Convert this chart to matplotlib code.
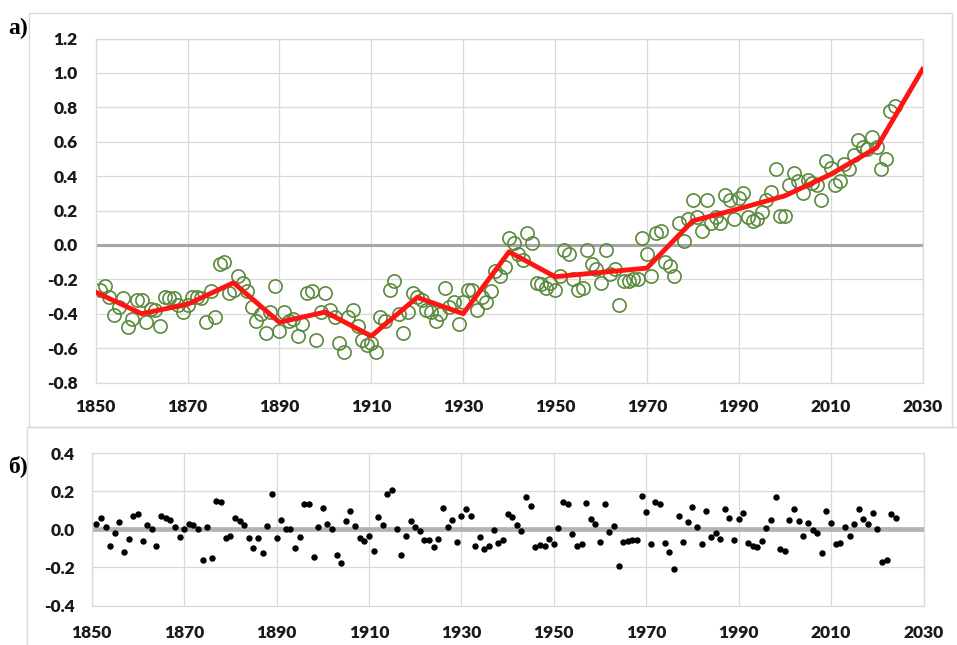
import matplotlib
matplotlib.use("Agg")
import matplotlib.pyplot as plt
from matplotlib.patches import Rectangle
import numpy as np

plt.rcParams["font.family"] = ["Lato", "DejaVu Sans"]

# годы наблюдений
years = np.arange(1851, 2025)

# аномалия температуры (кружки, панель а)
anomaly = [
    -0.26, -0.24, -0.30, -0.41, -0.36, -0.31, -0.48, -0.43, -0.32, -0.32,
    -0.45, -0.37, -0.38, -0.47, -0.30, -0.31, -0.31, -0.35, -0.39, -0.35,
    -0.30, -0.30, -0.31, -0.45, -0.27, -0.42, -0.11, -0.10, -0.28, -0.26,
    -0.18, -0.22, -0.27, -0.36, -0.44, -0.40, -0.51, -0.39, -0.24, -0.50,
    -0.39, -0.44, -0.43, -0.53, -0.46, -0.28, -0.27, -0.55, -0.39, -0.28,
    -0.38, -0.42, -0.57, -0.62, -0.42, -0.38, -0.47, -0.55, -0.58, -0.57,
    -0.62, -0.42, -0.44, -0.26, -0.21, -0.40, -0.51, -0.39, -0.28, -0.30,
    -0.32, -0.38, -0.39, -0.44, -0.40, -0.25, -0.36, -0.33, -0.46, -0.33,
    -0.26, -0.26, -0.38, -0.30, -0.33, -0.27, -0.15, -0.18, -0.13, 0.04,
    0.01, -0.05, -0.09, 0.07, 0.01, -0.22, -0.23, -0.25, -0.22, -0.26,
    -0.18, -0.03, -0.05, -0.20, -0.26, -0.25, -0.03, -0.11, -0.14, -0.22,
    -0.03, -0.17, -0.14, -0.35, -0.21, -0.21, -0.20, -0.20, 0.04, -0.05,
    -0.18, 0.07, 0.08, -0.10, -0.12, -0.18, 0.13, 0.02, 0.15, 0.26,
    0.16, 0.08, 0.26, 0.13, 0.16, 0.13, 0.29, 0.26, 0.15, 0.27,
    0.30, 0.16, 0.14, 0.15, 0.19, 0.26, 0.31, 0.44, 0.17, 0.17,
    0.35, 0.42, 0.37, 0.30, 0.38, 0.36, 0.35, 0.26, 0.49, 0.45,
    0.35, 0.37, 0.47, 0.44, 0.52, 0.61, 0.57, 0.56, 0.63, 0.57,
    0.44, 0.50, 0.78, 0.81,
]

# кусочно-линейный тренд (красная линия)
trend_years = [1850, 1860, 1870, 1880, 1890, 1900, 1910, 1920, 1930, 1940,
               1950, 1960, 1970, 1980, 1990, 2000, 2010, 2020, 2030]
trend_vals = [-0.275, -0.40, -0.345, -0.22, -0.45, -0.39, -0.53, -0.305, -0.40, -0.04,
              -0.185, -0.16, -0.135, 0.14, 0.21, 0.285, 0.41, 0.565, 1.02]

# отклонения от тренда (панель б)
residual = [
    0.03, 0.06, 0.01, -0.09, -0.02, 0.04, -0.12, -0.05, 0.07, 0.08,
    -0.06, 0.02, 0.00, -0.09, 0.07, 0.06, 0.05, 0.01, -0.04, 0.00,
    0.03, 0.02, 0.00, -0.16, 0.01, -0.15, 0.15, 0.145, -0.045, -0.035,
    0.06, 0.045, 0.02, -0.045, -0.10, -0.045, -0.125, 0.015, 0.185, -0.045,
    0.05, 0.00, 0.00, -0.10, -0.04, 0.135, 0.135, -0.145, 0.01, 0.11,
    0.025, 0.00, -0.135, -0.175, 0.045, 0.095, 0.015, -0.045, -0.06, -0.035,
    -0.115, 0.065, 0.02, 0.185, 0.205, 0.00, -0.135, -0.035, 0.045, 0.01,
    -0.01, -0.055, -0.055, -0.095, -0.05, 0.11, 0.01, 0.05, -0.065, 0.07,
    0.105, 0.07, -0.09, -0.04, -0.105, -0.09, -0.005, -0.07, -0.055, 0.08,
    0.065, 0.02, -0.01, 0.17, 0.12, -0.095, -0.085, -0.09, -0.05, -0.075,
    0.005, 0.145, 0.13, -0.025, -0.09, -0.075, 0.14, 0.055, 0.025, -0.065,
    0.13, -0.015, 0.015, -0.195, -0.065, -0.06, -0.055, -0.055, 0.175, 0.09,
    -0.075, 0.145, 0.135, -0.07, -0.12, -0.21, 0.07, -0.065, 0.04, 0.115,
    0.01, -0.075, 0.095, -0.04, -0.02, -0.05, 0.105, 0.06, -0.055, 0.055,
    0.085, -0.07, -0.09, -0.095, -0.06, 0.005, 0.05, 0.17, -0.105, -0.115,
    0.05, 0.105, 0.045, -0.035, 0.035, -0.005, -0.02, -0.125, 0.095, 0.035,
    -0.075, -0.07, 0.01, -0.035, 0.03, 0.105, 0.055, 0.03, 0.085, 0.00,
    -0.17, -0.16, 0.08, 0.06,
]

# подписи осей
top_yticks = [-0.8, -0.6, -0.4, -0.2, 0.0, 0.2, 0.4, 0.6, 0.8, 1.0, 1.2]
top_ylabels = ["-0.8", "-0.6", "-0.4", "-0.2", "0.0", "0.2", "0.4", "0.6", "0.8", "1.0", "1.2"]
bot_yticks = [-0.4, -0.2, 0.0, 0.2, 0.4]
bot_ylabels = ["-0.4", "-0.2", "0.0", "0.2", "0.4"]
xticks = [1850, 1870, 1890, 1910, 1930, 1950, 1970, 1990, 2010, 2030]

W, H = 957, 645
fig = plt.figure(figsize=(W / 100, H / 100), dpi=100)

GRID = "#d9d9d9"
TXT = "#1a1a1a"


def fx(px):
    return px / W


def fy(py):
    return 1 - py / H


# рамки областей диаграмм
fig.patches.append(Rectangle((fx(29), fy(427)), fx(952 - 29), (427 - 13) / H,
                             transform=fig.transFigure, fill=False,
                             edgecolor=GRID, lw=1))
fig.patches.append(Rectangle((fx(27), fy(660)), fx(960 - 27), (660 - 427) / H,
                             transform=fig.transFigure, fill=False,
                             edgecolor=GRID, lw=1))


def style_axes(ax, ypad, xpad):
    ax.set_xlim(1850, 2030)
    ax.set_xticks(xticks)
    ax.grid(True, color=GRID, lw=0.9)
    ax.set_axisbelow(True)
    for s in ax.spines.values():
        s.set_color(GRID)
        s.set_linewidth(0.9)
    ax.tick_params(axis="both", length=0, labelsize=12.5, colors=TXT)
    ax.tick_params(axis="y", pad=ypad)
    ax.tick_params(axis="x", pad=xpad)
    for lab in ax.get_xticklabels() + ax.get_yticklabels():
        lab.set_fontweight("heavy")


# панель а
ax1 = fig.add_axes([fx(95.7), fy(382.5), fx(922.5 - 95.7), (382.5 - 38.5) / H])
ax1.set_ylim(-0.8, 1.2)
ax1.set_yticks(top_yticks)
ax1.set_yticklabels(top_ylabels)
ax1.axhline(0, color="#a6a6a6", lw=2.2, zorder=1)
ax1.plot(years, anomaly, "o", ms=9.5, mfc="none", mec="#5a8a3c", mew=1.2, zorder=2)
ax1.plot(trend_years, trend_vals, "-", color="#ff1414", lw=3.5, zorder=3)
style_axes(ax1, ypad=13, xpad=12)

# панель б
ax2 = fig.add_axes([fx(91.7), fy(605.5), fx(923.5 - 91.7), (605.5 - 453) / H])
ax2.set_ylim(-0.4, 0.4)
ax2.set_yticks(bot_yticks)
ax2.set_yticklabels(bot_ylabels)
ax2.axhline(0, color="#b3b3b3", lw=3.4, zorder=1)
ax2.plot(years, residual, "o", ms=3.6, color="black", zorder=2)
style_axes(ax2, ypad=12, xpad=14)

fig.text(fx(8), fy(28), "а)", ha="left", va="center", fontsize=17,
         fontweight="bold", family=["Liberation Serif", "DejaVu Serif"])
fig.text(fx(8), fy(466), "б)", ha="left", va="center", fontsize=17,
         fontweight="bold", family=["Liberation Serif", "DejaVu Serif"])

fig.savefig("out.png", dpi=100)
